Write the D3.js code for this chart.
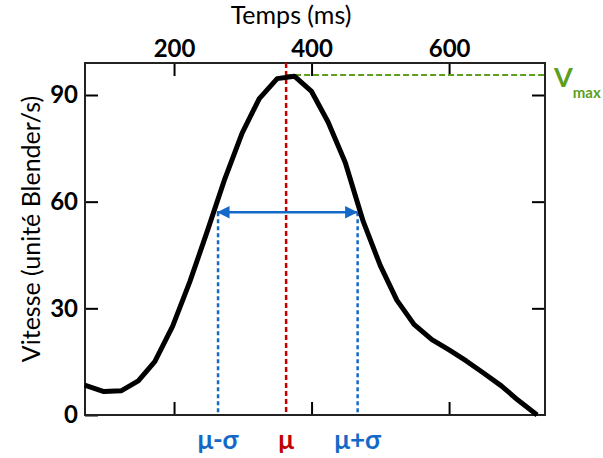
<!DOCTYPE html>
<html>
<head>
<meta charset="utf-8">
<script src="https://cdn.jsdelivr.net/npm/d3@7"></script>
<style>
  body { margin: 0; background: #fff; }
  svg text { font-family: Lato, "Open Sans", sans-serif; }
  .tick text { font-weight: bold; font-size: 24px; fill: #000; }
</style>
</head>
<body>
<div id="chart"></div>
<script>
// time (ms) and speed (Blender units/s)
const times = [70, 98, 123, 148, 172, 198, 223, 248, 274, 299, 324, 350, 375, 400, 424, 449, 475, 500, 524, 549, 575, 600, 625, 650, 676, 700, 728];
const speeds = [8.4, 6.6, 6.8, 9.6, 15.0, 25.0, 37.5, 51.5, 66.5, 79.3, 89.0, 94.6, 95.3, 91.0, 82.4, 71.0, 54.5, 42.0, 32.3, 25.5, 21.2, 18.3, 15.2, 11.8, 8.2, 4.2, 0];
const xTicks = [200, 400, 600];
const yTicks = [0, 30, 60, 90];

const mu = 363, muMinus = 264, muPlus = 467;
const sigmaLevel = 57;
const vmax = 95.6;

const blue = "#1469c8", red = "#c00000", green = "#5e9e1e";

const margin = {top: 63, right: 58, bottom: 43, left: 85};
const width = 603 - margin.left - margin.right;
const height = 458 - margin.top - margin.bottom;

const svg = d3.select("#chart").append("svg")
    .attr("width", 603)
    .attr("height", 458)
    .append("g")
    .attr("transform", `translate(${margin.left},${margin.top})`);

const x = d3.scaleLinear().domain([70.5, 739.5]).range([0, width]);
const y = d3.scaleLinear().domain([0, 99]).range([height, 0]);

// axes, ticks pointing inward
svg.append("g")
    .call(d3.axisTop(x).tickValues(xTicks).tickSize(-13).tickSizeOuter(0).tickPadding(6))
    .call(g => g.select(".domain").remove());
svg.append("g")
    .attr("transform", `translate(0,${height})`)
    .call(d3.axisBottom(x).tickValues(xTicks).tickSize(-13).tickSizeOuter(0).tickFormat(""))
    .call(g => g.select(".domain").remove());
svg.append("g")
    .call(d3.axisLeft(y).tickValues(yTicks).tickSize(-13).tickSizeOuter(0).tickPadding(7))
    .call(g => g.select(".domain").remove());
svg.append("g")
    .attr("transform", `translate(${width},0)`)
    .call(d3.axisRight(y).tickValues(yTicks.filter(d => d > 0)).tickSize(-13).tickSizeOuter(0).tickFormat(""))
    .call(g => g.select(".domain").remove());

svg.selectAll(".tick line").attr("stroke", "#000").attr("stroke-width", 2);

svg.append("rect")
    .attr("width", width)
    .attr("height", height)
    .attr("fill", "none")
    .attr("stroke", "#222")
    .attr("stroke-width", 2);

// axis titles
svg.append("text")
    .attr("x", 206)
    .attr("y", -39)
    .attr("text-anchor", "middle")
    .attr("font-size", 25)
    .text("Temps (ms)");

svg.append("text")
    .attr("transform", `translate(-45,166) rotate(-90)`)
    .attr("text-anchor", "middle")
    .attr("font-size", 25)
    .text("Vitesse (unité Blender/s)");

// reference lines
svg.append("line")
    .attr("x1", x(mu)).attr("x2", width)
    .attr("y1", y(vmax)).attr("y2", y(vmax))
    .attr("stroke", green).attr("stroke-width", 2)
    .attr("stroke-dasharray", "6,3");

svg.append("line")
    .attr("x1", x(mu)).attr("x2", x(mu))
    .attr("y1", 0).attr("y2", height)
    .attr("stroke", red).attr("stroke-width", 2.5)
    .attr("stroke-dasharray", "5,3");

[muMinus, muPlus].forEach(t => {
    svg.append("line")
        .attr("x1", x(t)).attr("x2", x(t))
        .attr("y1", y(sigmaLevel)).attr("y2", height)
        .attr("stroke", blue).attr("stroke-width", 2.5)
        .attr("stroke-dasharray", "4,3");
});

// curve
const line = d3.line()
    .x((d, i) => x(times[i]))
    .y(d => y(d));

svg.append("path")
    .datum(speeds)
    .attr("fill", "none")
    .attr("stroke", "#000")
    .attr("stroke-width", 5)
    .attr("stroke-linejoin", "round")
    .attr("d", line);

// double arrow for sigma
const defs = svg.append("defs");
defs.append("marker")
    .attr("id", "arrow")
    .attr("viewBox", "0 0 10 10")
    .attr("refX", 10).attr("refY", 5)
    .attr("markerWidth", 6.5).attr("markerHeight", 5)
    .attr("orient", "auto-start-reverse")
    .attr("markerUnits", "strokeWidth")
    .append("path")
    .attr("d", "M0,0 L10,5 L0,10 Z")
    .attr("fill", blue);

svg.append("line")
    .attr("x1", x(muMinus) - 1).attr("x2", x(muPlus))
    .attr("y1", y(sigmaLevel)).attr("y2", y(sigmaLevel))
    .attr("stroke", blue).attr("stroke-width", 2.5)
    .attr("marker-start", "url(#arrow)")
    .attr("marker-end", "url(#arrow)");

// labels under the axis
const labels = [
    {t: muMinus, text: "μ-σ", color: blue},
    {t: mu, text: "μ", color: red},
    {t: muPlus, text: "μ+σ", color: blue}
];
svg.selectAll(".mu-label")
    .data(labels)
    .join("text")
    .attr("class", "mu-label")
    .attr("x", d => x(d.t))
    .attr("y", height + 34)
    .attr("text-anchor", "middle")
    .attr("font-size", 26)
    .attr("font-weight", "bold")
    .attr("fill", d => d.color)
    .text(d => d.text);

// V max label
const vlab = svg.append("text")
    .attr("x", width + 9)
    .attr("y", y(vmax) + 12)
    .attr("fill", green)
    .attr("font-weight", "bold");
vlab.append("tspan").attr("font-size", 27).text("V");
vlab.append("tspan").attr("font-size", 15).attr("dy", 11).text("max");
</script>
</body>
</html>
